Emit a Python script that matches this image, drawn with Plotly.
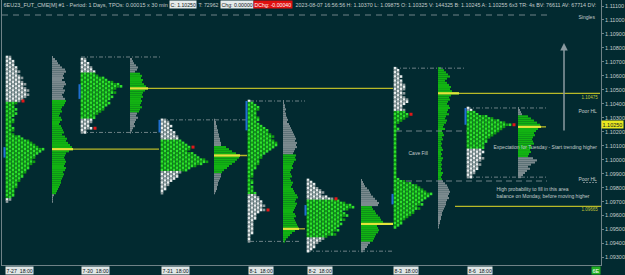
import plotly.graph_objects as go

# ---------------- data ----------------
TICK = 0.00015
sessions = ["7-27  18:00", "7-30  18:00", "7-31  18:00", "8-1  18:00", "8-2  18:00", "8-3  18:00", "8-6  18:00"]
tops = [1.10735, 1.10720, 1.10285, 1.10420, 1.09855, 1.10655, 1.10370]

d1_tpo = [2,2,3,3,3, 4,4,5,4,5, 6,5,6,7,6, 7,8,7,8,7, 6,5,4, 3,3,4,3,4,3,2,3,3,2,2,3,3,2,3,
          5,6,8,9,10,11,13, 12,11,10,10,9,10, 9,8,8,7,7,6, 6,5,5,4,4,4,3, 3,3,3,2,2,1]
d1_vol = [1,3,5,6,8, 10,13,14,12,11, 12,10,13,14,12, 11,13,12,10,11, 13,14,13,
          12,10,9,10,8,7,9,10,8,7,9,10,11,12,10, 13,15,14,16,18,20,21, 17,14,13,12,13,14,
          13,12,14,13,11,12, 11,10,9,9,8,7,6, 5,4,2,1,1,1]
d2_tpo = [2,2,3,3,4,4,5,5,6, 8,9,11,13,14, 12,11,12,10,11,10, 9,10,9,8,8,7, 6,5,5,4, 4,3,3,4,2,2]
d2_vol = [2,3,4,6,8,7,5, 10,12,11,13,12,14,16, 18, 15,13,12,13,11,12, 11,10,12,10,9, 7,6,8,6,5,4,5,3,2,1]
d3_tpo = [2,3,3,4,3,4, 5,5,6,6,7, 8,9,10,10,9, 11,12,13,15,16, 14,12,10,9, 7,6,6,5,4, 3,3,2,2,1,1]
d3_vol = [1,2,2,3,3,4,4, 5,5,6,6,7,7, 12,15,18,22, 26, 25,23,21,18, 15,13,10,8, 7,7,6,5,4,4,3,3,2,1]
d4_tpo = [1,2,3,4,4,3,3, 3,4,4,3,4,5, 6,7,7,8,9,8,9,10,10,9, 8,7,6,5,5,4, 4,4,3,3,2,
          2,2,2,1,2,2,1,2,2,2,3, 3,4,4,5,5,6,5,6,4, 3,3,3,2,2,2,2,2,2,2,1,1,1,1]
d4_vol = [1,1,2,2,3,2,3,3,4, 5,4,6,7,8,9,10,11, 12,13,12,14,13,14,12,11,10, 13,12,13,11,10,9,10,8,
          7,8,9,7,8,10,9,8,10, 11,12,14,15,13,12,14,13, 12,11,10,12,13,11,12,13, 14,15,16, 12,9,7,5,3,2]
d5_tpo = [1,2,3,3,4,5,6,5,7,9, 11,13,15,16, 14,12,13,14,12,13,11, 12,11,10,11,9,10,7, 6,5,4,3,3,2,1]
d5_vol = [1,2,3,4,6,8,9,10,12, 14,16,18,17, 11,12,14,15,17, 19,20,22, 32, 16,17,18,17,15,14, 13,12, 9,7,6,4,2]
d6_tpo = [1,2,2,2,3,2,3,3,4,4, 4,3,4,3,4,5, 5,4,3,3,4, 4,5,5,4,3,2,
          1,1,2,1,1,1,1,1,1,1,1,1,1,1,1,1,1,1,1,1,1,1,1,1,1,1,2,
          4,6,8,9,10, 11,13,12,11, 10,9,10,8,9,7, 7,6,5,4,3,3,2,1]
d6_vol = [3,6,8,10,12,9, 7,9,11,13,12,14, 21, 13,11,12,10,9,11,12, 10,9,11,8,7,9,8,
          6,5,7,4,5,6,4,5,3,4, 3,4,5,3,4,3,5,4,3,4, 3,4,3,5,4,3,4,
          5,7,9,10,11, 12,11,10,11,9,8, 8,7,6,5,4,4, 3,3,2,2,1,1]
d7_tpo = [1,2,3,4, 7,9,11,13,15, 13,12,11,10,9, 8,7,7,6,6, 6,5,6,5,5, 6,5,4,5,4, 4,3,3,2,2]
d7_vol = [1,2,3,4, 10,13,16,19,22, 23, 20,18,16,17,15, 14,15,16,13,14, 12,13,11,10, 15,19,17,13, 10,12,9,7,5,3]

tpo_counts = [d1_tpo, d2_tpo, d3_tpo, d4_tpo, d5_tpo, d6_tpo, d7_tpo]
volumes = [d1_vol, d2_vol, d3_vol, d4_vol, d5_vol, d6_vol, d7_vol]
white_top = [22, 7, 10, 1, 10, 21, 2]          # rows from top drawn in white (early periods)
white_bottom = [68, 29, 25, 45, 28, 77, 20]    # rows from this index drawn in white
va_high = [21, 7, 13, 26, 13, 0, 4]             # value area first row
va_low = [65, 25, 25, 67, 29, 53, 23]           # value area last row
close_rows = [21, 33, 13, 52, 9, 22, 8]         # red close marker rows
open_rows = [(43, 48), (12, 19), (0, 6), (0, 14), (12, 17), (60, 65), (0, 8)]  # initial range

levels = [1.10475, 1.09665]
current_price = 1.10250

header_main = "6EU23_FUT_CME[M] #1 - Period: 1 Days, TPOs: 0.00015 x 30 min"
header_c = "C: 1.10250"
header_t = "T: 72962"
header_chg = "Chg: 0.00000"
header_dchg = "DChg: -0.00040"
header_rest = ("2023-08-07 16:56:56 H: 1.10370 L: 1.09875 O: 1.10325 V: 144325 B: 1.10245 "
               "A: 1.10255 6x3 TR: 4s BV: 76611 AV: 67714 DV:")

# ---------------- layout constants ----------------
BG = "#022a30"
TXT = "#c3cccc"
LINE = "#6f8287"
FONT = "Liberation Sans"
PX_PER_PIP = 13.97
def price_at(ypx):
    return 1.111 - (ypx - 6) / PX_PER_PIP * 0.001

PMAX = price_at(0)
PMIN = price_at(265)

tpo_x0 = [6, 81, 161, 248, 307, 394, 467]
vol_x0 = [52, 130, 214, 283, 361, 438, 518]
poc_end = [159, 393, 247, 305, 393, 600, 546]
label_x = [5, 81, 161, 248, 307, 393, 467]
COL = 3.0

fig = go.Figure()

def line(x0, x1, y, color, width=1, dash=None):
    fig.add_trace(go.Scatter(x=[x0, x1], y=[y, y], mode="lines",
                             line=dict(color=color, width=width, dash=dash),
                             hoverinfo="skip"))

# top singles line
line(2, 547, price_at(15), LINE, 1, "6px,5px")

# high/low reference dashes
hl = [(81, 160, 0, "hi"), (81, 158, 1, "lo"), (161, 247, 2, "hi"), (250, 305, 3, "hi"),
      (250, 300, 3, "lo"), (307, 392, 4, "lo"), (394, 466, 5, "hi"), (467, 546, 6, "hi"),
      (467, 546, 6, "lo")]
for x0, x1, d, k in hl:
    p = tops[d] if k == "hi" else tops[d] - (len(tpo_counts[d]) - 1) * TICK
    line(x0, x1, p, LINE, 1, "4px,2px,1px,2px")
line(396, 467, price_at(131), LINE, 1, "6px,4px")
line(396, 547, price_at(181), LINE, 1, "6px,4px")
line(583, 598, price_at(182.5), LINE, 1, "2px,1px")

for d in range(7):
    top = tops[d]
    counts = tpo_counts[d]
    vols = volumes[d]
    n = len(counts)
    ys = [top - i * TICK for i in range(n)]
    # volume histogram
    colors = []
    for i in range(n):
        colors.append("#12b312" if va_high[d] <= i <= va_low[d] else "#7b8a8e")
    fig.add_trace(go.Bar(y=ys, x=vols, base=[vol_x0[d]] * n, orientation="h",
                         width=TICK, marker=dict(color=colors, line=dict(width=0)),
                         hoverinfo="skip"))
    # TPO squares
    tx, ty, tc = [], [], []
    for i, c in enumerate(counts):
        white = i < white_top[d] or i >= white_bottom[d]
        for j in range(c):
            tx.append(tpo_x0[d] + 1 + j * COL)
            ty.append(ys[i])
            if white:
                tc.append("#e8eded" if (i + j) % 2 == 0 else "#8d9a9c")
            else:
                tc.append("#2fe02f" if (i + j) % 2 == 0 else "#119c11")
    fig.add_trace(go.Scatter(x=tx, y=ty, mode="markers",
                             marker=dict(symbol="square", size=2.6, color=tc, line=dict(width=0)),
                             hoverinfo="skip"))
    # initial range bar
    a, b = open_rows[d]
    fig.add_trace(go.Scatter(x=[tpo_x0[d] - 1.5] * 2, y=[ys[a], ys[b]], mode="lines",
                             line=dict(color="#1f6fd0", width=2), hoverinfo="skip"))
    # close marker
    r = close_rows[d]
    fig.add_trace(go.Scatter(x=[tpo_x0[d] + 1 + counts[r] * COL + 1], y=[ys[r]], mode="markers",
                             marker=dict(symbol="square", size=3, color="#e01818"),
                             hoverinfo="skip"))
    # POC
    poc = max(range(n), key=lambda i: vols[i])
    line(vol_x0[d], poc_end[d], ys[poc], "#b9b928", 1.3)
    line(vol_x0[d], vol_x0[d] + vols[poc], ys[poc], "#e4e43a", 2.2)

# extra level
line(455, 601, levels[1], "#b9b928", 1.3)

fig.update_layout(
    width=625, height=275, margin=dict(l=2, r=24, t=0, b=10),
    paper_bgcolor=BG, plot_bgcolor=BG, showlegend=False, barmode="overlay",
    font=dict(family=FONT, color=TXT, size=5.5),
    xaxis=dict(range=[2, 601], showgrid=False, zeroline=False, showticklabels=False,
               showline=True, linecolor=LINE, linewidth=1, ticks=""),
    yaxis=dict(range=[PMIN, PMAX], side="right", dtick=0.001, tick0=1.09, tickformat=".5f",
               showgrid=False, zeroline=False, showline=True, mirror=True, linecolor=LINE,
               ticks="outside", ticklen=2, tickcolor=LINE,
               tickfont=dict(size=5.5, color=TXT, family=FONT)),
)

ann = []
def text(x, y, t, size=5.5, color=TXT, bg=None, xanchor="left", yref="y", xref="x", yanchor="middle", yshift=0):
    a = dict(x=x, y=y, xref=xref, yref=yref, text=t, showarrow=False, xanchor=xanchor,
             yanchor=yanchor, font=dict(size=size, color=color, family=FONT), borderpad=0.5,
             yshift=yshift)
    if bg:
        a["bgcolor"] = bg
    ann.append(a)

# header
hy = price_at(4)
text(2, hy, header_main, size=5.5)
text(169, hy, header_c, size=5.2, color="#102020", bg="#e6ecec")
text(197, hy, header_t, size=5.2)
text(220, hy, header_chg, size=5.2, color="#102020", bg="#e6ecec")
text(253, hy, header_dchg, size=5.2, color="#ffffff", bg="#e01010")
text(294, hy, header_rest, size=5.35)

# session labels
for s, x in zip(sessions, label_x):
    text(x, 0, s, size=5.2, color="#102020", bg="#dfe6e6", yref="paper", yanchor="top", yshift=-1)

text(1, 0, "6E", color="#ffffff", bg="#22b022", xref="paper", yref="paper", xanchor="right",
     yanchor="top", yshift=-1)
text(1, current_price, f"{current_price:.5f}", color="#102020", bg="#e8e820", xref="paper")

# notes
text(597, price_at(16), "Singles", size=5, xanchor="right")
text(599, price_at(110), "Poor HL", size=5, xanchor="right")
text(599, price_at(178), "Poor HL", size=5, xanchor="right")
text(600, levels[0] - 0.00025, f"{levels[0]:.5f}", size=4.5, color="#c0c838", xanchor="right")
text(600, levels[1] - 0.0002, f"{levels[1]:.5f}", size=4.5, color="#c0c838", xanchor="right")
text(407, price_at(152), "Cave Fill", size=5)
text(492, price_at(146), "Expectation for Tuesday - Start trending higher", size=5)
text(495, price_at(188.5), "High probability to fill in this area", size=5)
text(495, price_at(195.5), "balance on Monday, before moving higher", size=5)

ann.append(dict(x=564, y=price_at(43), ax=564, ay=price_at(132), xref="x", yref="y",
                axref="x", ayref="y", showarrow=True, arrowhead=2, arrowsize=1,
                arrowwidth=1.5, arrowcolor="#8a9aa0", text=""))

fig.update_layout(annotations=ann)
fig.write_html("out.html")
